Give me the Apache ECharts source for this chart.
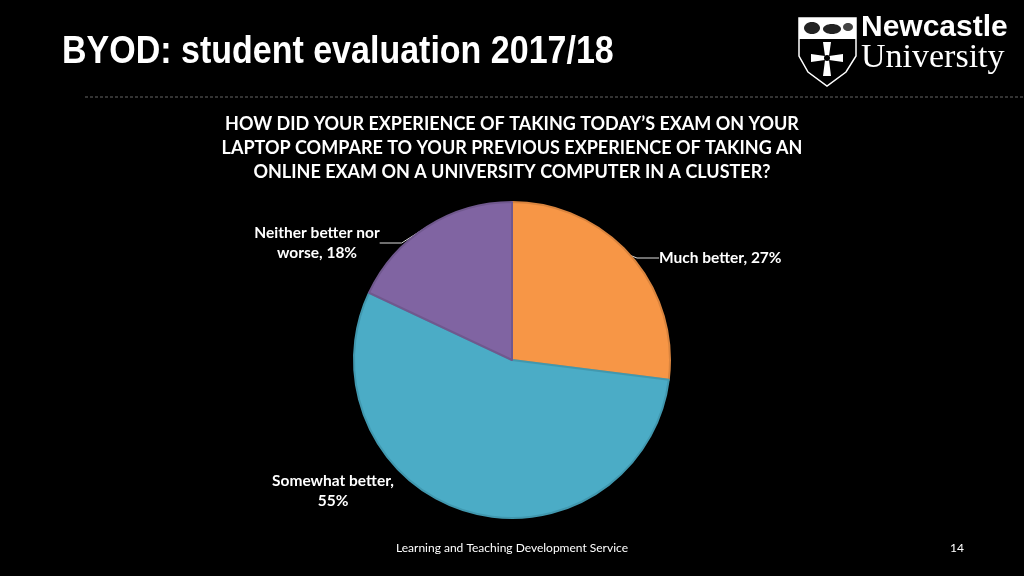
<!DOCTYPE html>
<html><head><meta charset="utf-8">
<script src="https://cdn.jsdelivr.net/npm/echarts@6/dist/echarts.min.js"></script>
<style>html,body{margin:0;padding:0;background:#000;}#c{width:1024px;height:576px;}</style>
</head><body><div id="c"></div>
<script>
const categories = ['Much better', 'Somewhat better', 'Neither better nor worse'];
const values = [27, 55, 18];
const labelTexts = ['Much better, 27%', 'Somewhat better,\n55%', 'Neither better nor\nworse, 18%'];
const colors = ['#F79646', '#4BACC6', '#8064A2'];
const borders = ['#D9843E', '#4198AF', '#70588E'];

const chart = echarts.init(document.getElementById('c'));
const labelFont = 'Lato, "Open Sans", sans-serif';
chart.setOption({
  backgroundColor: '#000',
  animation: false,
  graphic: [
    {type: 'text', x: 62, y: 33, scaleY: 1.12, style: {text: 'BYOD: student evaluation 2017/18', fill: '#fff', font: 'bold 34px "Liberation Sans", Arial, sans-serif'}},
    {type: 'text', x: 512, y: 112, style: {text: 'HOW DID YOUR EXPERIENCE OF TAKING TODAY\u2019S EXAM ON YOUR\nLAPTOP COMPARE TO YOUR PREVIOUS EXPERIENCE OF TAKING AN\nONLINE EXAM ON A UNIVERSITY COMPUTER IN A CLUSTER?', fill: '#fff', font: 'bold 18px Lato, sans-serif', align: 'center', lineHeight: 24}},
    {type: 'line', shape: {x1: 85, y1: 97, x2: 1024, y2: 97}, style: {stroke: '#666', lineWidth: 1, lineDash: [3, 2]}},
    {type: 'text', x: 512, y: 542, style: {text: 'Learning and Teaching Development Service', fill: '#fff', font: '12px Lato, sans-serif', align: 'center'}},
    {type: 'text', x: 950, y: 542, style: {text: '14', fill: '#fff', font: '12px Lato, sans-serif'}},
    // logo shield
    {type: 'polygon', shape: {points: [[799,18],[856,18],[856,56],[846,72],[827,86],[808,72],[799,56]]}, style: {fill: '#000', stroke: '#fff', lineWidth: 1.5}},
    {type: 'rect', shape: {x: 799, y: 18, width: 57, height: 21}, style: {fill: '#fff'}},
    {type: 'ellipse', shape: {cx: 812, cy: 28, rx: 8, ry: 6}, style: {fill: '#222'}},
    {type: 'ellipse', shape: {cx: 832, cy: 29, rx: 9, ry: 5}, style: {fill: '#222'}},
    {type: 'ellipse', shape: {cx: 848, cy: 27, rx: 5, ry: 4}, style: {fill: '#444'}},
    {type: 'polygon', shape: {points: [[823,42],[831,42],[829,56],[843,54],[843,62],[829,60],[831,76],[823,76],[825,60],[811,62],[811,54],[825,56]]}, style: {fill: '#fff'}},
    {type: 'circle', shape: {cx: 827, cy: 58, r: 3}, style: {fill: '#000'}},
    {type: 'text', x: 861, y: 13, style: {text: 'Newcastle', fill: '#fff', font: 'bold 30px "Liberation Sans", Arial, sans-serif'}},
    {type: 'text', x: 861, y: 41, style: {text: 'University', fill: '#fff', font: '34px "Liberation Serif", serif'}}
  ],
  series: [{
    type: 'pie',
    center: [512, 360],
    radius: 158,
    startAngle: 90,
    clockwise: true,
    data: categories.map((n, i) => ({
      name: n, value: values[i],
      itemStyle: {color: colors[i], borderColor: borders[i], borderWidth: 2},
      label: {formatter: labelTexts[i]},
      labelLine: {show: i !== 1}
    })),
    label: {
      show: true, color: '#fff', fontFamily: labelFont, fontSize: 15.5, fontWeight: 'bold', lineHeight: 20,
      textBorderWidth: 0
    },
    labelLine: {show: true, length: 8, length2: 22, lineStyle: {color: '#ddd', width: 1}},
    labelLayout: function (p) {
      if (p.dataIndex === 0) return {x: 659, y: 258, align: 'left', verticalAlign: 'middle'};
      if (p.dataIndex === 2) return {x: 317, y: 243, align: 'center', verticalAlign: 'middle'};
      return {x: 333, y: 491, align: 'center', verticalAlign: 'middle'};
    }
  }]
});
</script></body></html>
